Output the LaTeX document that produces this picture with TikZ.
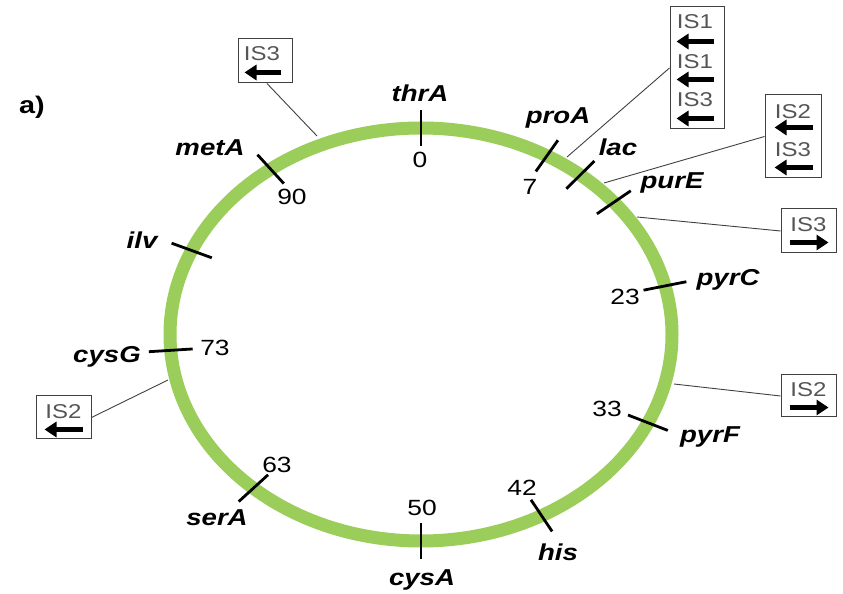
\documentclass[tikz,border=0pt]{standalone}
\usepackage{fontspec}
\setmainfont{Liberation Sans}[FakeStretch=1.2]
\usetikzlibrary{arrows.meta,calc}
\definecolor{ringgreen}{RGB}{155,205,90}
\definecolor{labelgray}{RGB}{85,85,85}
\begin{document}
\begin{tikzpicture}[x=1pt,y=1pt,
  gene/.style={font=\fontsize{23}{23}\selectfont\bfseries\itshape, inner sep=0pt},
  mappos/.style={font=\fontsize{22}{22}\selectfont, inner sep=0pt},
  isbox/.style={draw=black!75, line width=1pt, inner sep=0pt, fill=white},
  istext/.style={font=\fontsize{20}{20}\selectfont, text=labelgray, inner sep=0pt},
  isarrow/.style={line width=5.5pt, -{Triangle[length=12pt 0,width=15pt 0]}},
  leader/.style={line width=0.9pt, draw=black!75},
  genetick/.style={line width=2.8pt, line cap=butt},
]
\useasboundingbox (0,0) rectangle (843,594);

% chromosome ring
\coordinate (C) at (421,259.5);
\draw[ringgreen, line width=13pt] (C) ellipse [x radius=251pt, y radius=206.5pt];

% gene ticks across the ring
\foreach \t in {90,59.9,50.6,39.8,13.6,-25.3,-61.3,-90,-131.9,184.4,156,126.8}
  \draw[genetick, shift={(C)}] (\t:229 and 188.5) -- (\t:273 and 224.5);

% gene names and map positions
\node[gene]   (thrA) at (420,501) {thrA};
\node[mappos] (p0)   at (420,434) {0};
\node[gene]   (proA) at (558,476) {proA};
\node[mappos] (p7)   at (530,407) {7};
\node[gene]   (lac)  at (618,447) {lac};
\node[gene]   (purE) at (672,411) {purE};
\node[gene]   (pyrC) at (728,314) {pyrC};
\node[mappos] (p23)  at (625,297) {23};
\node[mappos] (p33)  at (607,185) {33};
\node[gene]   (pyrF) at (710,157) {pyrF};
\node[mappos] (p42)  at (522,106) {42};
\node[gene]   (his)  at (558,42)  {his};
\node[mappos] (p50)  at (422,86)  {50};
\node[gene]   (cysA) at (422,14)  {cysA};
\node[mappos] (p63)  at (277,129) {63};
\node[gene]   (serA) at (217,76)  {serA};
\node[gene]   (cysG) at (107,237) {cysG};
\node[mappos] (p73)  at (215,246) {73};
\node[gene]   (ilv)  at (142,354) {ilv};
\node[gene]   (metA) at (210,446) {metA};
\node[mappos] (p90)  at (292,397) {90};

% panel label
\node[font=\fontsize{24}{24}\selectfont\bfseries, inner sep=0pt] (panel) at (32,487) {a)};

% insertion-sequence boxes
\node[isbox, minimum width=54pt, minimum height=44pt]  (b1) at (265,533) {};
\node[isbox, minimum width=54pt, minimum height=122pt] (b2) at (697,526) {};
\node[isbox, minimum width=56pt, minimum height=83pt]  (b3) at (793,457.5) {};
\node[isbox, minimum width=55pt, minimum height=44pt]  (b4) at (808.5,363) {};
\node[isbox, minimum width=55pt, minimum height=42pt]  (b5) at (808.5,198) {};
\node[isbox, minimum width=55pt, minimum height=43pt]  (b6) at (63.5,176.5) {};

% insertion sites on the ring
\coordinate (s1) at (317,458);
\coordinate (s2) at (567,437);
\coordinate (s3) at (604,411);
\coordinate (s4) at (637,377);
\coordinate (s5) at (674,210);
\coordinate (s6) at (168,214);

\draw[leader] (b1.south) ++(2,0) -- (s1);
\draw[leader] (b2.west) -- (s2);
\draw[leader] (b3.west) -- (s3);
\draw[leader] (b4.west) -- (s4);
\draw[leader] (b5.west) -- (s5);
\draw[leader] (b6.east) -- (s6);

% box contents
\node[istext] at ($(b1.north)+(-3,-15)$) {IS3};
\draw[isarrow] ($(b1.north east)+(-12,-34)$) -- ($(b1.north west)+(7,-34)$);

\node[istext] at ($(b2.north)+(-2,-15)$) {IS1};
\draw[isarrow] ($(b2.north east)+(-11,-35)$) -- ($(b2.north west)+(7,-35)$);
\node[istext] at ($(b2.north)+(-2,-55)$) {IS1};
\draw[isarrow] ($(b2.north east)+(-11,-73)$) -- ($(b2.north west)+(7,-73)$);
\node[istext] at ($(b2.north)+(-2,-93)$) {IS3};
\draw[isarrow] ($(b2.north east)+(-11,-112)$) -- ($(b2.north west)+(7,-112)$);

\node[istext] at ($(b3.north)+(0,-17)$) {IS2};
\draw[isarrow] ($(b3.north east)+(-9,-33)$) -- ($(b3.north west)+(10,-33)$);
\node[istext] at ($(b3.north)+(0,-55)$) {IS3};
\draw[isarrow] ($(b3.north east)+(-9,-73)$) -- ($(b3.north west)+(10,-73)$);

\node[istext] at ($(b4.north)+(0,-16)$) {IS3};
\draw[isarrow] ($(b4.north west)+(9,-34)$) -- ($(b4.north east)+(-8,-34)$);

\node[istext] at ($(b5.north)+(0,-15)$) {IS2};
\draw[isarrow] ($(b5.north west)+(9,-33)$) -- ($(b5.north east)+(-8,-33)$);

\node[istext] at ($(b6.north)+(0,-16)$) {IS2};
\draw[isarrow] ($(b6.north east)+(-9,-34)$) -- ($(b6.north west)+(9,-34)$);
\end{tikzpicture}
\end{document}
